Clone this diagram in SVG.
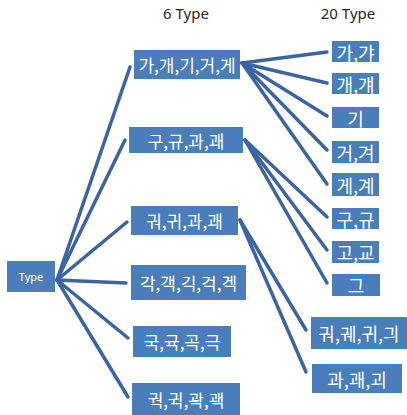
<svg xmlns="http://www.w3.org/2000/svg" width="407" height="415" viewBox="0 0 407 415">
<style>
.n rect{fill:#4a7ebb;}
.n text{fill:#ffffff;font-family:"Noto Sans CJK KR","Noto Sans",sans-serif;font-size:17px;text-anchor:middle;dominant-baseline:central;}
.r text{font-size:18px;}
.c line{stroke:#3c64a0;stroke-width:3.5;stroke-linecap:round;}
.h{font-family:"Noto Sans","Liberation Sans",sans-serif;font-size:15px;fill:#262626;text-anchor:middle;}
</style>
<rect width="407" height="415" fill="#ffffff"/>
<text class="h" x="186" y="19">6 Type</text>
<text class="h" x="348" y="19">20 Type</text>
<g class="c" id="connectors">
<line x1="57" y1="280" x2="130" y2="67"/>
<line x1="57" y1="280" x2="125" y2="140"/>
<line x1="57" y1="280" x2="127" y2="222"/>
<line x1="57" y1="280" x2="126" y2="283"/>
<line x1="57" y1="280" x2="128" y2="338"/>
<line x1="57" y1="280" x2="128" y2="397"/>
<line x1="242" y1="63" x2="327" y2="52"/>
<line x1="242" y1="63" x2="327" y2="83"/>
<line x1="242" y1="63" x2="327" y2="116"/>
<line x1="242" y1="63" x2="327" y2="150"/>
<line x1="242" y1="63" x2="327" y2="184"/>
<line x1="245" y1="140" x2="327" y2="217"/>
<line x1="245" y1="140" x2="327" y2="250"/>
<line x1="245" y1="140" x2="327" y2="283"/>
<line x1="240" y1="220" x2="306" y2="330"/>
<line x1="240" y1="220" x2="306" y2="372"/>
</g>
<g class="n" id="type"><rect x="7" y="261" width="48" height="31"/><text x="31" y="276.5" style="font-size:11px;font-family:'Noto Sans','Liberation Sans',sans-serif">Type</text></g>
<g class="n" id="g1"><rect x="134" y="50" width="106" height="29"/><text x="187" y="64.5">가,개,기,거,게</text></g>
<g class="n" id="g2"><rect x="129" y="127" width="114" height="26"/><text x="186" y="140">구,규,과,괘</text></g>
<g class="n" id="g3"><rect x="131" y="206" width="107" height="29"/><text x="184.5" y="220.5">궈,귀,과,괘</text></g>
<g class="n" id="g4"><rect x="131" y="265" width="115" height="35"/><text x="188.5" y="282.5">각,객,긱,걱,겍</text></g>
<g class="n" id="g5"><rect x="133" y="326" width="98" height="31"/><text x="182" y="341.5">국,귝,곡,극</text></g>
<g class="n" id="g6"><rect x="132" y="383" width="108" height="34"/><text x="186" y="399">궉,귁,곽,괙</text></g>
<g class="n r" id="r1"><rect x="332" y="41" width="47" height="21"/><text x="355.5" y="51.5">가,갸</text></g>
<g class="n r" id="r2"><rect x="332" y="73" width="47" height="21"/><text x="355.5" y="83.5">개,걔</text></g>
<g class="n r" id="r3"><rect x="332" y="107" width="47" height="21"/><text x="355.5" y="117.5">기</text></g>
<g class="n r" id="r4"><rect x="332" y="141" width="47" height="22"/><text x="355.5" y="152">거,겨</text></g>
<g class="n r" id="r5"><rect x="332" y="173" width="47" height="23"/><text x="355.5" y="184.5">게,계</text></g>
<g class="n r" id="r6"><rect x="332" y="208" width="47" height="21"/><text x="355.5" y="218.5">구,규</text></g>
<g class="n r" id="r7"><rect x="332" y="241" width="47" height="22"/><text x="355.5" y="252">고,교</text></g>
<g class="n r" id="r8"><rect x="332" y="274" width="48" height="22"/><text x="356" y="285">그</text></g>
<g class="n r" id="r9"><rect x="311" y="317" width="96" height="32"/><text x="359" y="333">궈,궤,귀,긔</text></g>
<g class="n r" id="r10"><rect x="312" y="364" width="90" height="29"/><text x="357" y="378.5">과,괘,괴</text></g>
</svg>
